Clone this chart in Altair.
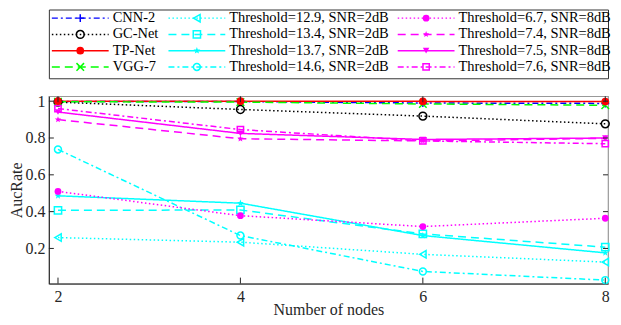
import math
import altair as alt
import pandas as pd

# ---------------- data ----------------
nodes = [2, 4, 6, 8]
series_names = [
    "CNN-2", "GC-Net", "TP-Net", "VGG-7",
    "Threshold=12.9, SNR=2dB", "Threshold=13.4, SNR=2dB",
    "Threshold=13.7, SNR=2dB", "Threshold=14.6, SNR=2dB",
    "Threshold=6.7, SNR=8dB", "Threshold=7.4, SNR=8dB",
    "Threshold=7.5, SNR=8dB", "Threshold=7.6, SNR=8dB",
]
cnn2 = [0.999, 0.998, 0.990, 0.988]
gcnet = [0.995, 0.955, 0.919, 0.877]
tpnet = [1.000, 1.000, 0.999, 0.998]
vgg7 = [0.997, 0.995, 0.985, 0.978]
th129 = [0.259, 0.234, 0.168, 0.126]
th134 = [0.407, 0.409, 0.279, 0.207]
th137 = [0.486, 0.446, 0.270, 0.176]
th146 = [0.738, 0.270, 0.075, 0.028]
th67 = [0.510, 0.378, 0.319, 0.364]
th74 = [0.900, 0.796, 0.784, 0.798]
th75 = [0.941, 0.825, 0.792, 0.800]
th76 = [0.960, 0.846, 0.784, 0.769]
series_values = [cnn2, gcnet, tpnet, vgg7, th129, th134, th137, th146,
                 th67, th74, th75, th76]

x_ticks = [2, 4, 6, 8]
y_ticks = [0.2, 0.4, 0.6, 0.8, 1.0]

# ---------------- styles ----------------
colors = ["#0000FF", "#000000", "#FF0000", "#00FF00",
          "#00FFFF", "#00FFFF", "#00FFFF", "#00FFFF",
          "#FF00FF", "#FF00FF", "#FF00FF", "#FF00FF"]
DOT = [1.5, 2.5]
DASH = [8, 5]
DASHDOT = [6, 3, 2, 3]
SOLID = [1, 0]
dashes = [DASHDOT, DOT, SOLID, DASH,
          DOT, DASH, SOLID, DASHDOT,
          DOT, DASH, SOLID, DASHDOT]

pts = []
for i in range(10):
    r = 1.0 if i % 2 == 0 else 0.42
    a = -math.pi / 2 + i * math.pi / 5
    pts.append(f"{r * math.cos(a):.3f},{r * math.sin(a):.3f}")
STAR = "M" + "L".join(pts) + "Z"
PLUS = "M-1,0H1M0,-1V1"
XMARK = "M-1,-1L1,1M-1,1L1,-1"
shapes = [PLUS, "circle", "circle", XMARK,
          "triangle-left", "square", STAR, "circle",
          "circle", STAR, "triangle-down", "square"]
sizes = [64, 40, 25, 30,
         50, 40, 110, 36,
         36, 120, 60, 40]
filled = [False, False, True, False,
          False, False, True, False,
          True, True, True, False]

FONT = "Liberation Serif"
AX = "#262626"

rows = []
for name, vals, f in zip(series_names, series_values, filled):
    for n, v in zip(nodes, vals):
        rows.append({"series": name, "nodes": n, "auc": v, "filled": f})
df = pd.DataFrame(rows)

color_enc = alt.Color("series:N", scale=alt.Scale(domain=series_names, range=colors), legend=None)
dash_enc = alt.StrokeDash("series:N", scale=alt.Scale(domain=series_names, range=dashes), legend=None)
shape_enc = alt.Shape("series:N", scale=alt.Scale(domain=series_names, range=shapes), legend=None)
size_enc = alt.Size("series:N", scale=alt.Scale(domain=series_names, range=sizes), legend=None)

W = 561
H = 188

X = alt.X("nodes:Q",
          scale=alt.Scale(domain=[1.9, 8.03], nice=False, zero=False),
          axis=alt.Axis(values=x_ticks, tickSize=0, grid=False, domainColor=AX, domainWidth=1,
                        labelFont=FONT, labelFontSize=16, labelColor=AX, labelPadding=5,
                        title="Number of nodes", titleFont=FONT, titleFontSize=16,
                        titleFontWeight="normal", titleColor=AX, titlePadding=-3))
Y = alt.Y("auc:Q",
          scale=alt.Scale(domain=[0.009, 1.027], nice=False, zero=False),
          axis=alt.Axis(values=y_ticks, format=".1~f", tickSize=0, grid=False, domainColor=AX,
                        domainWidth=1, labelFont=FONT, labelFontSize=16, labelColor=AX,
                        labelPadding=4, title="AucRate", titleFont=FONT, titleFontSize=16,
                        titleFontWeight="normal", titleColor=AX, titlePadding=0))

base = alt.Chart(df)
lines = base.mark_line(strokeWidth=1.5, clip=True).encode(
    x=X, y=Y, color=color_enc, strokeDash=dash_enc, detail="series:N")
pts_filled = base.transform_filter("datum.filled").mark_point(filled=True, opacity=1).encode(
    x=X, y=Y, color=color_enc, shape=shape_enc, size=size_enc)
pts_open = base.transform_filter("!datum.filled").mark_point(filled=False, opacity=1, strokeWidth=1.5).encode(
    x=X, y=Y, color=color_enc, shape=shape_enc, size=size_enc)

ydf = pd.DataFrame({"auc": y_ticks})
xdf = pd.DataFrame({"nodes": x_ticks})
tick_l = alt.Chart(ydf).mark_rule(color=AX, strokeWidth=1).encode(y=Y, x=alt.value(0), x2=alt.value(5))
tick_r = alt.Chart(ydf).mark_rule(color=AX, strokeWidth=1).encode(y=Y, x=alt.value(W - 5), x2=alt.value(W))
tick_b = alt.Chart(xdf).mark_rule(color=AX, strokeWidth=1).encode(x=X, y=alt.value(H - 6), y2=alt.value(H))
tick_t = alt.Chart(xdf).mark_rule(color=AX, strokeWidth=1).encode(x=X, y=alt.value(0), y2=alt.value(6))

main = alt.layer(lines, pts_open, pts_filled, tick_l, tick_r, tick_b, tick_t).properties(
    width=W, height=H, view=alt.ViewBackground(stroke="#999999", strokeWidth=1.2))

# ---------------- legend (drawn as its own panel) ----------------
COL_START = [3, 120, 350]
LINE_LEN = 57
TEXT_GAP = 4
leg_rows = []
for i, (name, f) in enumerate(zip(series_names, filled)):
    c, r = i // 4, i % 4
    x0 = COL_START[c]
    leg_rows.append({"series": name, "row": r, "x0": x0, "x1": x0 + LINE_LEN,
                     "xm": x0 + LINE_LEN / 2, "xt": x0 + LINE_LEN + TEXT_GAP, "filled": f})
ldf = pd.DataFrame(leg_rows)

LX = alt.Scale(domain=[0, W], nice=False, zero=False)
LY = alt.Scale(domain=[-0.53, 3.7], nice=False, zero=False, reverse=True)
lbase = alt.Chart(ldf)
l_lines = lbase.mark_rule(strokeWidth=1.5).encode(
    x=alt.X("x0:Q", scale=LX, axis=None), x2="x1:Q",
    y=alt.Y("row:Q", scale=LY, axis=None), color=color_enc, strokeDash=dash_enc)
l_open = lbase.transform_filter("!datum.filled").mark_point(filled=False, opacity=1, strokeWidth=1.5).encode(
    x=alt.X("xm:Q", scale=LX, axis=None), y=alt.Y("row:Q", scale=LY, axis=None),
    color=color_enc, shape=shape_enc, size=size_enc)
l_fill = lbase.transform_filter("datum.filled").mark_point(filled=True, opacity=1).encode(
    x=alt.X("xm:Q", scale=LX, axis=None), y=alt.Y("row:Q", scale=LY, axis=None),
    color=color_enc, shape=shape_enc, size=size_enc)
l_text = lbase.mark_text(align="left", baseline="middle", font=FONT, fontSize=14.5, color="#000000").encode(
    x=alt.X("xt:Q", scale=LX, axis=None), y=alt.Y("row:Q", scale=LY, axis=None), text="series:N")

legend = alt.layer(l_lines, l_open, l_fill, l_text).properties(
    width=W, height=69, view=alt.ViewBackground(stroke="#333333", strokeWidth=1))

chart = alt.vconcat(legend, main, spacing=13).properties(padding=0).configure_view(stroke=None)

chart.save("out.html", embed_options={"renderer": "svg", "actions": False})
